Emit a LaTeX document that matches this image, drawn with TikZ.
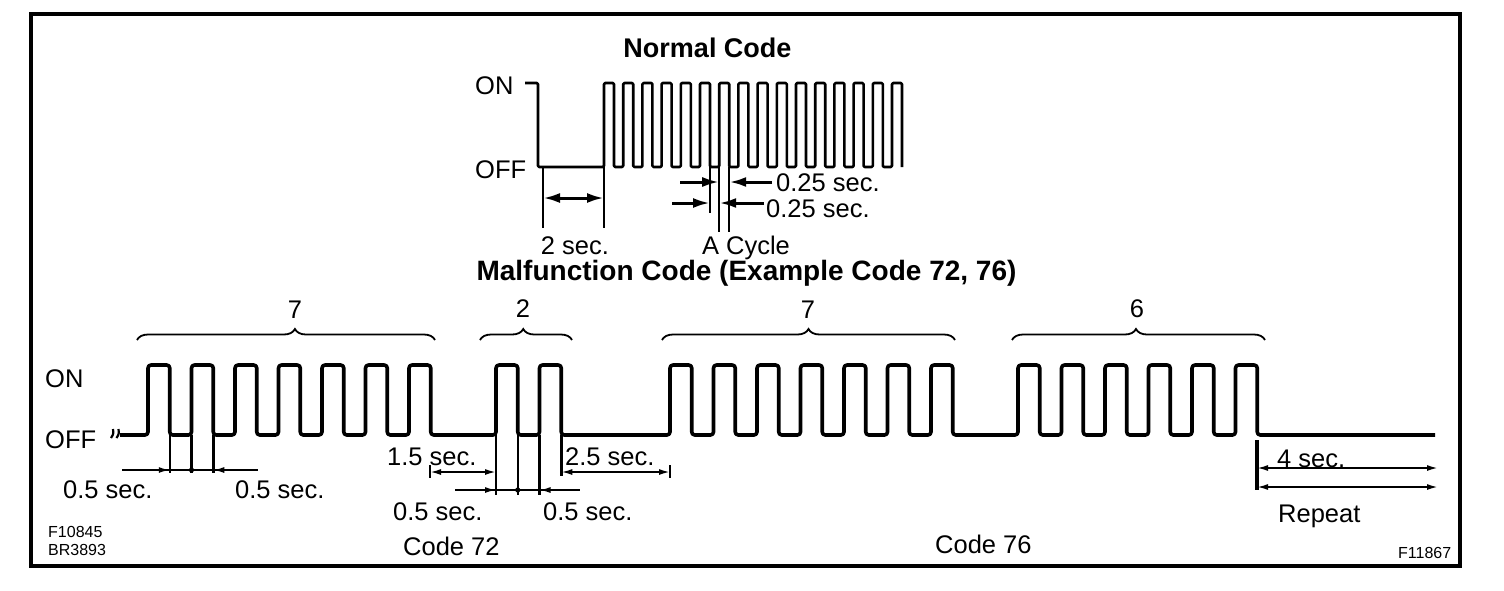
\documentclass[tikz,border=0pt]{standalone}
\usepackage{fontspec}
\setmainfont{Liberation Sans}
\usetikzlibrary{arrows.meta,decorations.pathreplacing}
\begin{document}
\begin{tikzpicture}[x=1pt,y=-1pt,
  frame/.style={line width=3.2pt},
  wave/.style={line width=2.6pt, rounded corners=1.2pt, line join=round},
  mwave/.style={line width=3.6pt, rounded corners=3pt, line join=round},
  ext/.style={line width=2.5pt},
  thk/.style={line width=3.2pt},
  bigarr/.style={line width=3pt, -{Latex[length=17pt,width=10pt]}},
  bigdbl/.style={line width=3pt, {Latex[length=17pt,width=10pt]}-{Latex[length=17pt,width=10pt]}},
  smarr/.style={line width=1.8pt, -{Latex[length=11pt,width=6pt]}},
  smdbl/.style={line width=1.8pt, {Latex[length=11pt,width=6pt]}-{Latex[length=11pt,width=6pt]}},
  brc/.style={decorate, decoration={brace, amplitude=11pt, aspect=#1}, line width=1.8pt},
  lbl/.style={inner sep=0pt, font=\fontsize{25.5}{30}\selectfont},
  tiny/.style={inner sep=0pt, font=\fontsize{16}{18}\selectfont},
  ttl/.style={inner sep=0pt, font=\fontsize{27}{32}\selectfont\bfseries},
  ttlb/.style={inner sep=0pt, font=\fontsize{28}{32}\selectfont\bfseries}]
\useasboundingbox (0,0) rectangle (1504,590);
\fill[white] (0,0) rectangle (1504,590);
% frame
\draw[frame] (31,14) rectangle (1460,566);

% ---------------- Normal code ----------------
\def\np{19.2}\def\nh{10}
\node[ttl, anchor=base] (nc) at (707.5,57) {Normal Code};
\node[lbl, anchor=base west] (on1) at (475,94) {ON};
\node[lbl, anchor=base west] (off1) at (475,178) {OFF};
\draw[wave] (525,83) -- (538,83) -- (538,167)
  \foreach \k in {0,...,15}{ -- ({604+\np*\k},167) -- ({604+\np*\k},83) -- ({604+\nh+\np*\k},83) -- ({604+\nh+\np*\k},167) };
% 2 sec dimension
\coordinate (e1t) at (543,167); \coordinate (e1b) at (543,228);
\coordinate (e2t) at (604,167); \coordinate (e2b) at (604,228);
\draw[ext] (e1t) -- (e1b);
\draw[ext] (e2t) -- (e2b);
\draw[bigdbl] (543,198) -- (604,198);
\node[lbl, anchor=base] (s2) at (575,254) {2 sec.};
% a cycle
\coordinate (c1) at (710,167); \coordinate (c2) at (719.2,167); \coordinate (c3) at (729.2,167);
\draw[ext] (c1) -- (710,213);
\draw[ext] (c2) -- (719.2,232);
\draw[ext] (c3) -- (729.2,232);
\draw[bigarr] (680,182) -- (719.2,182);
\draw[bigarr] (772,182) -- (729.2,182);
\draw[bigarr] (672,203) -- (710,203);
\draw[bigarr] (764,203) -- (719.2,203);
\node[lbl, anchor=base west] (q1) at (776,191) {0.25 sec.};
\node[lbl, anchor=base west] (q2) at (766,217) {0.25 sec.};
\node[lbl, anchor=base] (cyc) at (746,254) {A Cycle};

% ---------------- Malfunction code ----------------
\node[ttlb, anchor=base] (mc) at (746.5,280) {Malfunction Code (Example Code 72, 76)};
\node[lbl, anchor=base west] (on2) at (45,387) {ON};
\node[lbl, anchor=base west] (off2) at (45,448) {OFF};
% break mark
\draw[line width=2.2pt] (111,438) .. controls (113.5,434) .. (113,429);
\draw[line width=2.2pt] (116.5,438) .. controls (119,434) .. (118.5,429);
% waveform
\def\u{43.5}
\draw[mwave] (120,435)
  \foreach \t in {0,1,2,3,4,5,6,8,9,12,13,14,15,16,17,18,20,21,22,23,24,25}{
    -- ({148+\u*\t},435) -- ({148+\u*\t},365) -- ({148+\u*(\t+0.5)},365) -- ({148+\u*(\t+0.5)},435) }
  -- (1435,435);
% braces
\draw[brc=0.53] (137,340) -- (435,340);
\draw[brc=0.47] (480,340) -- (572,340);
\draw[brc=0.50] (662,340) -- (955,340);
\draw[brc=0.49] (1012,340) -- (1265,340);
\node[lbl, anchor=base] (n7a) at (295,318) {7};
\node[lbl, anchor=base] (n2) at (523,317) {2};
\node[lbl, anchor=base] (n7b) at (808,318) {7};
\node[lbl, anchor=base] (n6) at (1137,317) {6};
% code 7 dims
\draw[ext] (169.75,435) -- (169.75,473);
\draw[ext] (191.5,435) -- (191.5,473);
\draw[ext] (213.25,435) -- (213.25,473);
\draw[line width=1.8pt] (122,470) -- (258,470);
\draw[smarr] (140,470) -- (169.75,470);
\draw[smarr] (242,470) -- (213.25,470);
\fill (191.5,470) circle (2.6pt);
\node[lbl, anchor=base west] (h1) at (63,498) {0.5 sec.};
\node[lbl, anchor=base west] (h2) at (235,498) {0.5 sec.};
% code 2 dims
\draw[ext] (496,435) -- (496,495);
\draw[ext] (517.75,435) -- (517.75,495);
\draw[ext] (539.5,435) -- (539.5,495);
\draw[line width=1.8pt] (455,490) -- (580,490);
\draw[smarr] (470,490) -- (496,490);
\draw[smarr] (565,490) -- (539.5,490);
\fill (517.75,490) circle (2.6pt);
\node[lbl, anchor=base west] (h3) at (393,520) {0.5 sec.};
\node[lbl, anchor=base west] (h4) at (543,520) {0.5 sec.};
% 1.5 sec
\draw[line width=2.2pt] (430,465) -- (430,478);
\draw[smdbl] (430,472) -- (496,472);
\node[lbl, anchor=base west] (g15) at (387,465) {1.5 sec.};
% 2.5 sec
\draw[thk] (561.25,435) -- (561.25,476);
\draw[line width=2.2pt] (670,465) -- (670,478);
\draw[smdbl] (561.25,472) -- (670,472);
\node[lbl, anchor=base west] (g25) at (565,465) {2.5 sec.};
% 4 sec / repeat
\draw[thk] (1257,440) -- (1257,490);
\draw[smdbl] (1257,468) -- (1438,468);
\draw[smdbl] (1257,487) -- (1438,487);
\node[lbl, anchor=base west] (g4) at (1277,467) {4 sec.};
\node[lbl, anchor=base west] (rep) at (1278,522) {Repeat};
% codes and refs
\node[lbl, anchor=base west] (c72) at (403,555) {Code 72};
\node[lbl, anchor=base west] (c76) at (935,553) {Code 76};
\node[tiny, anchor=base west] (f1) at (48,537) {F10845};
\node[tiny, anchor=base west] (f2) at (48,555) {BR3893};
\node[tiny, anchor=base west] (f3) at (1398,558) {F11867};
\end{tikzpicture}
\end{document}
